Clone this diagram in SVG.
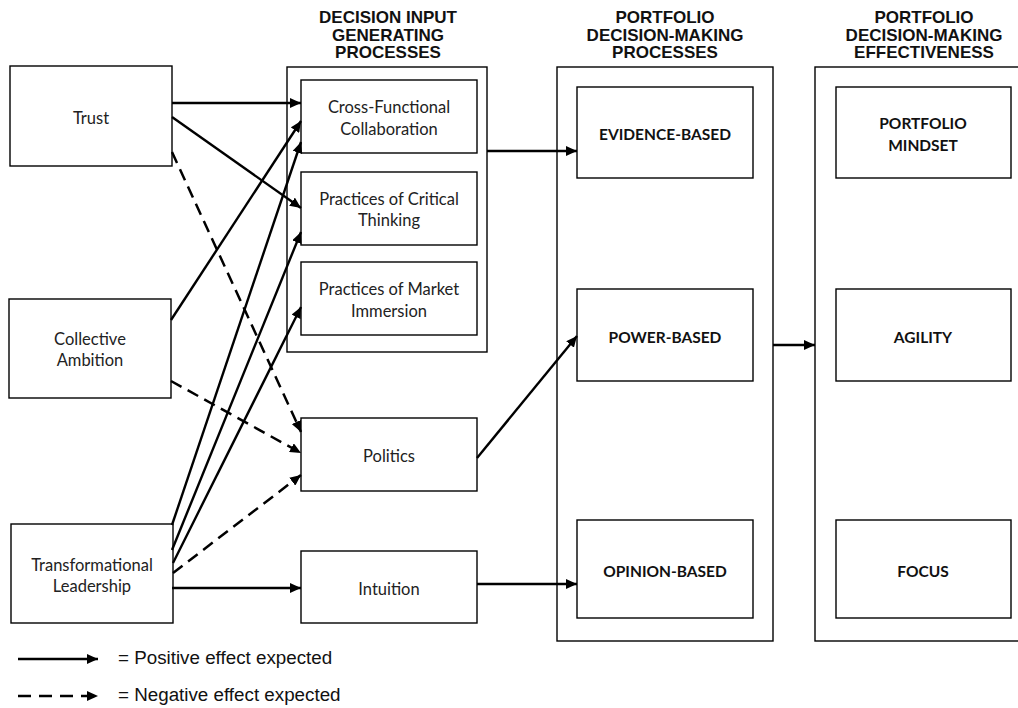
<svg xmlns="http://www.w3.org/2000/svg" width="1018" height="708" viewBox="0 0 1018 708">
<style>
.box{fill:#fff;stroke:#000;stroke-width:1.4}
.frame{fill:none;stroke:#000;stroke-width:1.4}
.lbl{font-family:Lato,"Liberation Sans",sans-serif;font-size:16.5px;fill:#222;text-anchor:middle}
.blbl{font-family:Lato,"Liberation Sans",sans-serif;font-size:15.5px;font-weight:bold;fill:#111;text-anchor:middle}
.hdr{font-family:"Liberation Sans",Arial,sans-serif;font-size:17px;font-weight:bold;fill:#111;text-anchor:middle}
.leg{font-family:"Liberation Sans",Arial,sans-serif;font-size:18.8px;fill:#111}
.pos{fill:none;stroke:#000;stroke-width:2.4;marker-end:url(#ah)}
.neg{fill:none;stroke:#000;stroke-width:2.5;stroke-dasharray:12,7;marker-end:url(#ah)}
</style>
<defs>
<marker id="ah" markerUnits="userSpaceOnUse" markerWidth="12" markerHeight="10" refX="11" refY="5" orient="auto">
<path d="M0,0 L11,5 L0,10 Z" fill="#000"/>
</marker>
</defs>
<rect width="1018" height="708" fill="#fff"/>

<g id="headers">
<text class="hdr" x="388" y="23">DECISION INPUT</text>
<text class="hdr" x="388" y="40.5">GENERATING</text>
<text class="hdr" x="388" y="58">PROCESSES</text>
<text class="hdr" x="665" y="23">PORTFOLIO</text>
<text class="hdr" x="665" y="40.5">DECISION-MAKING</text>
<text class="hdr" x="665" y="58">PROCESSES</text>
<text class="hdr" x="924" y="23">PORTFOLIO</text>
<text class="hdr" x="924" y="40.5">DECISION-MAKING</text>
<text class="hdr" x="924" y="58">EFFECTIVENESS</text>
</g>

<g id="frames">
<rect id="frame-dip" class="frame" x="287" y="67" width="200" height="285"/>
<rect id="frame-pdmp" class="frame" x="557" y="67" width="216" height="574"/>
<rect id="frame-pdme" class="frame" x="815" y="67" width="220" height="574"/>
</g>

<g id="node-trust"><rect class="box" x="10" y="66" width="162" height="100"/><text class="lbl" x="91" y="124">Trust</text></g>
<g id="node-ambition"><rect class="box" x="9" y="299" width="162" height="99"/><text class="lbl" x="90" y="345">Collective</text><text class="lbl" x="90" y="366">Ambition</text></g>
<g id="node-leadership"><rect class="box" x="11" y="524" width="162" height="99"/><text class="lbl" x="92" y="571">Transformational</text><text class="lbl" x="92" y="592">Leadership</text></g>

<g id="node-crossfunc"><rect class="box" x="301" y="80" width="176" height="73"/><text class="lbl" x="389" y="113">Cross-Functional</text><text class="lbl" x="389" y="135">Collaboration</text></g>
<g id="node-critical"><rect class="box" x="301" y="172" width="176" height="73"/><text class="lbl" x="389" y="205">Practices of Critical</text><text class="lbl" x="389" y="226">Thinking</text></g>
<g id="node-market"><rect class="box" x="301" y="262" width="176" height="73"/><text class="lbl" x="389" y="295">Practices of Market</text><text class="lbl" x="389" y="317">Immersion</text></g>
<g id="node-politics"><rect class="box" x="301" y="418" width="176" height="73"/><text class="lbl" x="389" y="462">Politics</text></g>
<g id="node-intuition"><rect class="box" x="301" y="551" width="176" height="72"/><text class="lbl" x="389" y="595">Intuition</text></g>

<g id="node-evidence"><rect class="box" x="577" y="87" width="176" height="91"/><text class="blbl" x="665" y="140">EVIDENCE-BASED</text></g>
<g id="node-power"><rect class="box" x="577" y="289" width="176" height="92"/><text class="blbl" x="665" y="343">POWER-BASED</text></g>
<g id="node-opinion"><rect class="box" x="577" y="520" width="176" height="98"/><text class="blbl" x="665" y="577">OPINION-BASED</text></g>

<g id="node-mindset"><rect class="box" x="836" y="87" width="175" height="91"/><text class="blbl" x="923" y="129">PORTFOLIO</text><text class="blbl" x="923" y="151">MINDSET</text></g>
<g id="node-agility"><rect class="box" x="836" y="289" width="175" height="92"/><text class="blbl" x="923" y="343">AGILITY</text></g>
<g id="node-focus"><rect class="box" x="836" y="520" width="175" height="98"/><text class="blbl" x="923" y="577">FOCUS</text></g>

<g id="connectors">
<path class="pos" d="M172,103 L301,103"/>
<path class="pos" d="M172,117 L301,208"/>
<path class="neg" d="M172,152 L301,432"/>
<path class="pos" d="M171,320 L301,121"/>
<path class="neg" d="M171,381 L301,453"/>
<path class="pos" d="M172,525 L301,142"/>
<path class="pos" d="M172,550 L301,232"/>
<path class="pos" d="M173,563 L301,307"/>
<path class="neg" d="M173,573 L301,475"/>
<path class="pos" d="M172,588 L301,588"/>
<path class="pos" d="M487,151 L577,151"/>
<path class="pos" d="M477,458 L577,336"/>
<path class="pos" d="M477,584 L577,584"/>
<path class="pos" d="M773,345 L815,345"/>
</g>

<g id="legend">
<path class="pos" d="M18,659 L98,659"/>
<path class="neg" d="M18,696 L98,696" style="stroke-dasharray:13,8"/>
<text class="leg" x="118" y="664">= Positive effect expected</text>
<text class="leg" x="118" y="701">= Negative effect expected</text>
</g>
</svg>
